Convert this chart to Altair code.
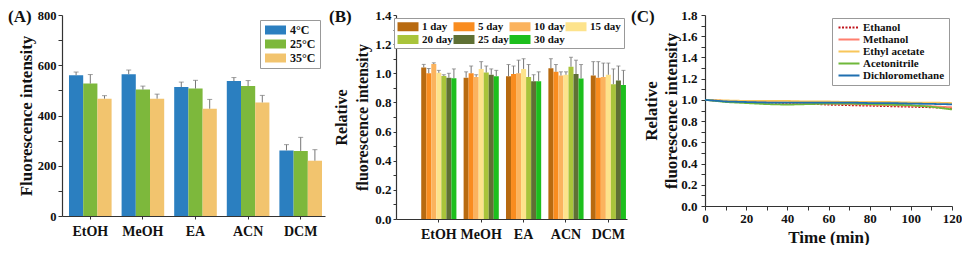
import altair as alt
import pandas as pd

F = "Liberation Serif"

# ---------------- Panel A data ----------------
solvents = ["EtOH", "MeOH", "EA", "ACN", "DCM"]
temps = ["4°C", "25°C", "35°C"]
temp_colors = ["#2b7fc0", "#7db83c", "#f2c46e"]
a_4 = [560, 564, 513, 537, 261]
a_4_err = [13, 17, 20, 14, 23]
a_25 = [527, 503, 507, 517, 259]
a_25_err = [36, 14, 33, 22, 54]
a_35 = [467, 467, 427, 452, 220]
a_35_err = [12, 18, 37, 28, 44]

# ---------------- Panel B data ----------------
days = ["1 day", "5 day", "10 day", "15 day", "20 day", "25 day", "30 day"]
day_colors = ["#b86a10", "#f98c1f", "#fbb35e", "#fde38c", "#a9c43b", "#5f7034", "#1dbf1d"]
# values per day, ordered EtOH, MeOH, EA, ACN, DCM
b_1 = [1.040, 0.970, 0.980, 1.035, 0.985]
b_5 = [1.000, 1.000, 0.995, 1.010, 0.970]
b_10 = [1.063, 0.975, 1.000, 0.985, 0.975]
b_15 = [1.003, 1.030, 1.030, 0.990, 0.990]
b_20 = [0.982, 1.005, 0.975, 1.045, 0.925]
b_25 = [0.970, 0.990, 0.945, 0.995, 0.950]
b_30 = [0.966, 0.980, 0.945, 0.965, 0.920]
b_1_err = [0.021, 0.040, 0.080, 0.065, 0.095]
b_5_err = [0.033, 0.050, 0.055, 0.050, 0.110]
b_10_err = [0.009, 0.015, 0.090, 0.025, 0.095]
b_15_err = [0.017, 0.050, 0.070, 0.020, 0.080]
b_20_err = [0.008, 0.045, 0.085, 0.065, 0.105]
b_25_err = [0.030, 0.040, 0.045, 0.095, 0.100]
b_30_err = [0.064, 0.040, 0.065, 0.095, 0.100]

# ---------------- Panel C data ----------------
times = [0, 10, 20, 30, 40, 50, 60, 70, 80, 90, 100, 110, 120]
c_names = ["Ethanol", "Methanol", "Ethyl acetate", "Acetonitrile", "Dichloromethane"]
c_colors = ["#c0141c", "#ff7f6e", "#f8c65a", "#6fb83a", "#1f6fb0"]
c_ethanol = [1.0, 0.99, 0.98, 0.975, 0.97, 0.965, 0.955, 0.95, 0.945, 0.94, 0.935, 0.93, 0.92]
c_methanol = [1.0, 0.99, 0.985, 0.98, 0.975, 0.97, 0.965, 0.96, 0.955, 0.95, 0.945, 0.94, 0.93]
c_ethyl = [1.0, 0.995, 0.99, 0.99, 0.99, 0.985, 0.985, 0.98, 0.98, 0.98, 0.975, 0.975, 0.97]
c_acn = [1.0, 0.98, 0.97, 0.96, 0.955, 0.96, 0.965, 0.965, 0.96, 0.955, 0.95, 0.935, 0.91]
c_dcm = [1.0, 0.985, 0.98, 0.975, 0.975, 0.975, 0.975, 0.975, 0.97, 0.97, 0.965, 0.962, 0.958]

# ---------------- build tables ----------------
rows_a = []
for t, vals, errs in zip(temps, [a_4, a_25, a_35], [a_4_err, a_25_err, a_35_err]):
    for s, v, e in zip(solvents, vals, errs):
        rows_a.append({"solvent": s, "temp": t, "value": v, "top": v + e})
df_a = pd.DataFrame(rows_a)

b_vals = [b_1, b_5, b_10, b_15, b_20, b_25, b_30]
b_errs = [b_1_err, b_5_err, b_10_err, b_15_err, b_20_err, b_25_err, b_30_err]
rows_b = []
for d, vals, errs in zip(days, b_vals, b_errs):
    for s, v, e in zip(solvents, vals, errs):
        rows_b.append({"solvent": s, "day": d, "value": v, "top": v + e})
df_b = pd.DataFrame(rows_b)

rows_c = []
for n, vals in zip(c_names, [c_ethanol, c_methanol, c_ethyl, c_acn, c_dcm]):
    for t, v in zip(times, vals):
        rows_c.append({"time": t, "name": n, "value": v})
df_c = pd.DataFrame(rows_c)

RECT = "M-1,-0.9H3.2V0.9H-1Z"
STROKE = "M-1,0H6"

def letter(txt, x, y):
    return alt.Chart(pd.DataFrame({"t": [txt]})).mark_text(
        font=F, fontWeight="bold", fontSize=17, align="left", baseline="middle", color="#111"
    ).encode(text="t:N", x=alt.value(x), y=alt.value(y))

x_axis_common = dict(labelAngle=0, labelFontSize=14, tickSize=3, labelPadding=5, title=None)

# ---------------- Panel A ----------------
xa = alt.X("solvent:N", sort=solvents,
           scale=alt.Scale(paddingInner=0.19, paddingOuter=0.095, align=0.7),
           axis=alt.Axis(**x_axis_common))
xoa = alt.XOffset("temp:N", sort=temps, scale=alt.Scale(domain=temps))
ya_axis = alt.Axis(values=list(range(0, 801, 100)),
                   labelExpr="datum.value % 200 == 0 ? datum.label : ''",
                   title="Fluorescence intensity", titleFontSize=17, titlePadding=2,
                   labelFontSize=12.5, tickSize=4, labelPadding=2, labelOverlap=False)
ya_scale = alt.Scale(domain=[0, 800], nice=False)

bars_a = alt.Chart(df_a).mark_bar().encode(
    x=xa, xOffset=xoa, y=alt.Y("value:Q", scale=ya_scale, axis=ya_axis),
    color=alt.Color("temp:N", sort=temps,
                    scale=alt.Scale(domain=temps, range=temp_colors),
                    legend=alt.Legend(orient="top-right", offset=5, title=None,
                                      symbolType=RECT, symbolSize=100, symbolStrokeWidth=0,
                                      labelOffset=14, labelFontSize=12, rowPadding=2,
                                      padding=4, strokeColor="#999", fillColor="white",
                                      symbolOpacity=1)),
)
rule_a = alt.Chart(df_a).mark_rule(color="#777", strokeWidth=1).encode(
    x=xa, xOffset=xoa, y=alt.Y("value:Q", scale=ya_scale, axis=ya_axis), y2="top:Q")
cap_a = alt.Chart(df_a).mark_tick(color="#777", thickness=1, size=5).encode(
    x=xa, xOffset=xoa, y=alt.Y("top:Q", scale=ya_scale, axis=ya_axis))
panel_a = alt.layer(bars_a, rule_a, cap_a, letter("(A)", -54, 2)).properties(width=263, height=201)

# ---------------- Panel B ----------------
xb = alt.X("solvent:N", sort=solvents,
           scale=alt.Scale(paddingInner=0.17, paddingOuter=0.31, align=0.96),
           axis=alt.Axis(**x_axis_common))
xob = alt.XOffset("day:N", sort=days, scale=alt.Scale(domain=days))
yb_axis = alt.Axis(values=[round(i * 0.1, 1) for i in range(0, 15)],
                   labelExpr="(round(datum.value*10) % 2 == 0) ? format(datum.value, '.1f') : ''",
                   title=["Relative", "fluorescence intensity"], titleFontSize=16,
                   titlePadding=4, titleLineHeight=21, labelOverlap=False,
                   labelFontSize=13, tickSize=3, labelPadding=2)
yb_scale = alt.Scale(domain=[0, 1.4], nice=False)
bars_b = alt.Chart(df_b).mark_bar().encode(
    x=xb, xOffset=xob, y=alt.Y("value:Q", scale=yb_scale, axis=yb_axis),
    color=alt.Color("day:N", sort=days,
                    scale=alt.Scale(domain=days, range=day_colors),
                    legend=alt.Legend(orient="top-right", offset=3, title=None, columns=4,
                                      direction="horizontal",
                                      symbolType=RECT, symbolSize=100, symbolStrokeWidth=0,
                                      labelOffset=14, labelFontSize=11, rowPadding=1,
                                      columnPadding=0, padding=3, strokeColor="#999",
                                      fillColor="white", symbolOpacity=1)),
)
rule_b = alt.Chart(df_b).mark_rule(color="#777", strokeWidth=1).encode(
    x=xb, xOffset=xob, y=alt.Y("value:Q", scale=yb_scale, axis=yb_axis), y2="top:Q")
cap_b = alt.Chart(df_b).mark_tick(color="#777", thickness=1, size=4).encode(
    x=xb, xOffset=xob, y=alt.Y("top:Q", scale=yb_scale, axis=yb_axis))
panel_b = alt.layer(bars_b, rule_b, cap_b, letter("(B)", -67, 2)).properties(width=231, height=204)

# ---------------- Panel C ----------------
xc = alt.X("time:Q", scale=alt.Scale(domain=[0, 120], nice=False),
           axis=alt.Axis(values=list(range(0, 121, 10)),
                         labelExpr="datum.value % 20 == 0 ? datum.label : ''",
                         title="Time (min)", titleFontSize=17, titlePadding=4,
                         labelFontSize=13, tickSize=4, labelPadding=2, labelOverlap=False,
                         labelFlush=False))
yc = alt.Y("value:Q", scale=alt.Scale(domain=[0, 1.8], nice=False),
           axis=alt.Axis(values=[round(i * 0.1, 1) for i in range(0, 19)],
                         labelExpr="(round(datum.value*10) % 2 == 0) ? format(datum.value, '.1f') : ''",
                         title=["Relative", "fluorescence intensity"], titleFontSize=17,
                         titlePadding=0, titleLineHeight=20, labelOverlap=False,
                         labelFontSize=13, tickSize=4, labelPadding=4))
lines_c = alt.Chart(df_c).mark_line(strokeWidth=1.8).encode(
    x=xc, y=yc,
    color=alt.Color("name:N", sort=c_names,
                    scale=alt.Scale(domain=c_names, range=c_colors),
                    legend=alt.Legend(orient="top-right", offset=3, title=None,
                                      symbolType=STROKE, symbolSize=36, symbolStrokeWidth=2,
                                      labelOffset=16, labelFontSize=11, rowPadding=0,
                                      padding=4, strokeColor="#999", fillColor="white")),
    strokeDash=alt.StrokeDash("name:N", sort=c_names,
                              scale=alt.Scale(domain=c_names,
                                              range=[[2, 1.5], [1, 0], [1, 0], [1, 0], [1, 0]]),
                              legend=None),
    order="time:Q",
)
panel_c = alt.layer(lines_c, letter("(C)", -74, 2)).properties(width=247, height=191)

chart = alt.hconcat(panel_a, panel_b, panel_c, spacing=4).resolve_scale(
    color="independent", xOffset="independent", strokeDash="independent",
    x="independent", y="independent"
).properties(
    padding={"left": 0, "top": 0, "right": 0, "bottom": 0}
).configure_view(stroke=None).configure_axis(
    labelFont=F, titleFont=F, labelFontWeight="bold", titleFontWeight="bold",
    labelColor="#111", titleColor="#111", domainColor="#333", tickColor="#333",
    domainWidth=1.2, grid=False
).configure_legend(labelFont=F, labelFontWeight="bold", labelColor="#111")

chart.save("out.html", embed_options={"renderer": "svg", "actions": False})
